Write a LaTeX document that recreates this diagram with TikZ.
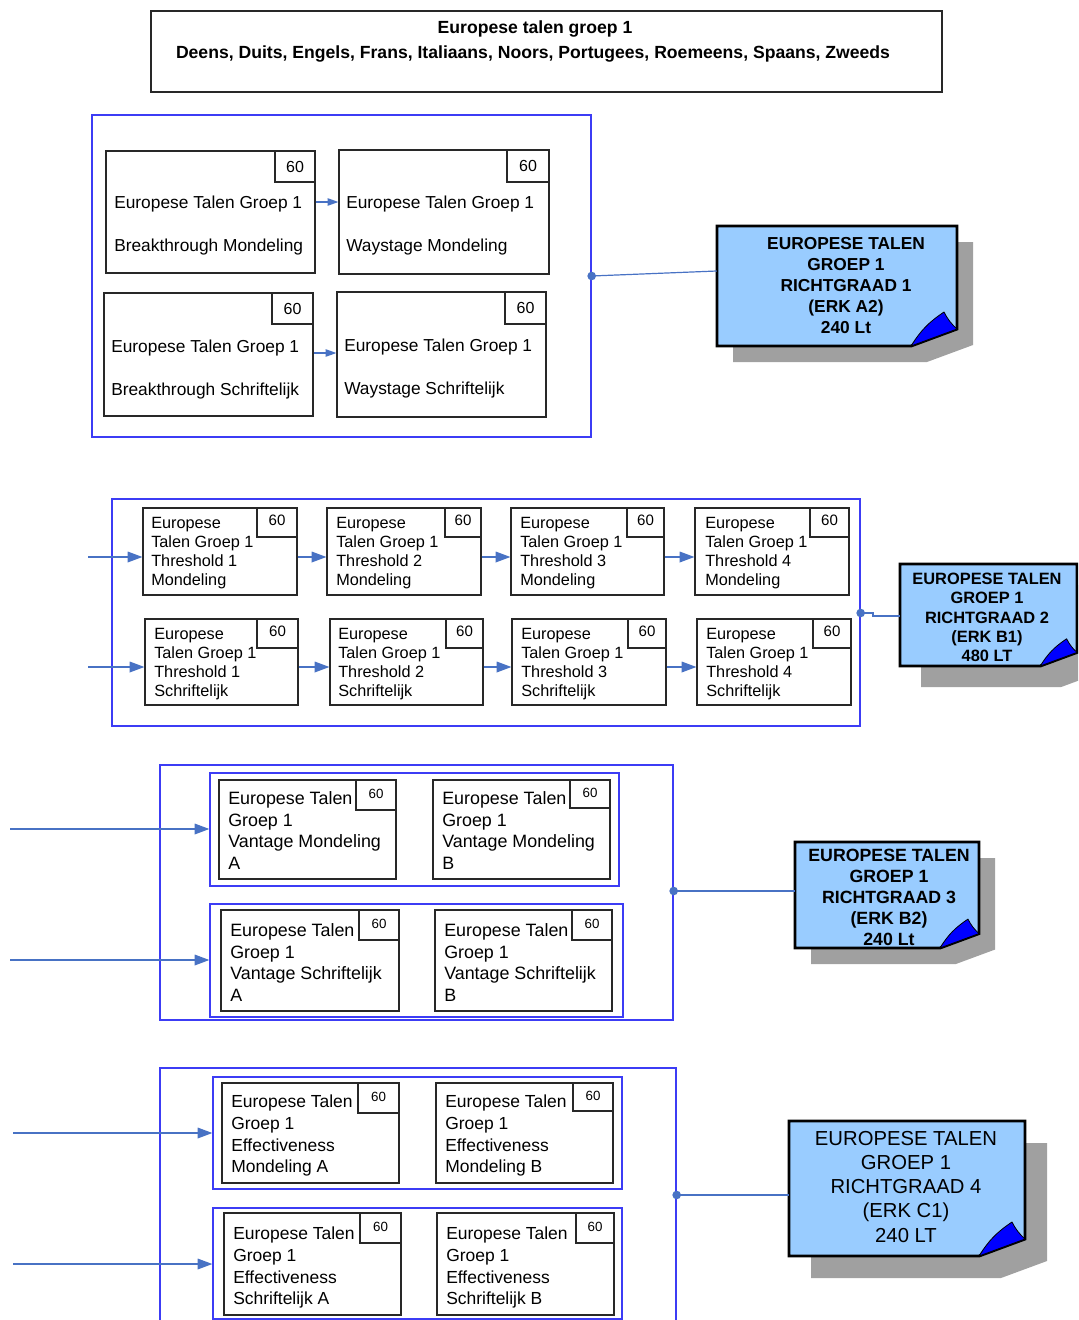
\documentclass[tikz,border=0pt]{standalone}
\usepackage{fontspec}
\setmainfont{Liberation Sans}
\usetikzlibrary{fit,arrows.meta,calc}
\definecolor{framebl}{RGB}{60,60,245}
\definecolor{connbl}{RGB}{72,114,196}
\definecolor{notefill}{RGB}{153,204,255}
\definecolor{foldbl}{RGB}{0,0,255}
\definecolor{shadowgray}{RGB}{160,160,160}
\definecolor{boxline}{RGB}{40,40,40}
\tikzset{
  blueframe/.style={draw=framebl, line width=1pt, inner sep=0},
  unitbox/.style={draw=boxline, line width=0.9pt, inner sep=0},
  tagbox/.style={draw=boxline, line width=0.9pt, inner sep=0},
  conn/.style={draw=connbl, line width=0.9pt},
  arrS/.style={conn, -{Triangle[length=8pt,width=5.5pt]}},
  arrL/.style={conn, -{Triangle[length=11pt,width=8pt]}},
  jdot/.style={circle, fill=connbl, inner sep=0, minimum size=6.5pt},
  txtA/.style={anchor=north west, inner sep=0, align=left, font=\fontsize{13}{32.5}\selectfont},
  txtB/.style={anchor=north west, inner sep=0, align=left, font=\fontsize{12.2}{14.25}\selectfont},
  txtC/.style={anchor=north west, inner sep=0, align=left, font=\fontsize{13.4}{16.1}\selectfont},
  txtD/.style={anchor=north west, inner sep=0, align=left, font=\fontsize{13.1}{16.3}\selectfont},
  tagA/.style={tagbox, font=\fontsize{12}{14}\selectfont},
  tagB/.style={tagbox, font=\fontsize{11.3}{13}\selectfont},
  tagC/.style={tagbox, font=\fontsize{10}{12}\selectfont},
  notetext/.style={anchor=north, inner sep=0, align=center},
}
% tag cell: #1 name, #2 x1, #3 y1, #4 x2, #5 y2, #6 style, #7 vertical shift of the number
\newcommand{\tagcell}[7]{%
  \node[#6, fit={(#2,#3)(#4,#5)}] (#1) {};
  \node[#6, draw=none, inner sep=0] (#1n) at ([yshift=#7]#1.center) {60};
}
% #1 name, #2 x1, #3 y1, #4 x2, #5 y2, #6 shadow offset, #7 fold scale
\newcommand{\stickynote}[7]{%
  \fill[shadowgray] (#2+#6,#3+#6) -- (#4+#6,#3+#6) -- (#4+#6,#5+#6-17*#7) -- (#4+#6-46*#7,#5+#6) -- (#2+#6,#5+#6) -- cycle;
  \node[fit={(#2,#3)(#4,#5)}, inner sep=0] (#1) {};
  \filldraw[fill=notefill, draw=black, line width=2.2pt] (#2,#3) -- (#4,#3) -- (#4,#5-17*#7) -- (#4-46*#7,#5) -- (#2,#5) -- cycle;
  \filldraw[fill=foldbl, draw=black, line width=0.6pt, line join=round] (#4-46*#7,#5) to[bend left=12] (#4-13*#7,#5-34*#7) to[bend right=10] (#4,#5-17*#7) -- cycle;
}
\begin{document}
\begin{tikzpicture}[x=0.75pt,y=-0.75pt]
\useasboundingbox (0,0) rectangle (1078,1320);
\clip (0,0) rectangle (1078,1320);

% ---------- title ----------
\node[draw=boxline, line width=0.8pt, inner sep=0, fit={(151,11)(942,92)}] (title) {};
\node[inner sep=0, font=\fontsize{13.2}{15}\selectfont\bfseries] (title1) at (535,28.5) {Europese talen groep 1};
\node[inner sep=0, font=\fontsize{13.2}{15}\selectfont\bfseries] (title2) at (533,53.5) {Deens, Duits, Engels, Frans, Italiaans, Noors, Portugees, Roemeens, Spaans, Zweeds};

% ---------- section 1 ----------
\node[blueframe, fit={(92,115)(591,437)}] (s1) {};
\node[unitbox, fit={(106,151)(315,273)}] (b1) {};
\tagcell{b1t}{275}{151}{315}{182}{tagA}{0pt}
\node[unitbox, fit={(339,150)(549,274)}] (b2) {};
\tagcell{b2t}{507}{150}{549}{182}{tagA}{0pt}
\node[unitbox, fit={(104,293)(313,416)}] (b3) {};
\tagcell{b3t}{272}{293}{313}{324}{tagA}{0pt}
\node[unitbox, fit={(337,292)(546,417)}] (b4) {};
\tagcell{b4t}{505}{292}{546}{324}{tagA}{0pt}
\node[txtA] (b1x) at (114,195.8) {Europese Talen Groep 1\\Breakthrough Mondeling};
\node[txtA] (b2x) at (346,195.8) {Europese Talen Groep 1\\Waystage Mondeling};
\node[txtA] (b3x) at (111,339.8) {Europese Talen Groep 1\\Breakthrough Schriftelijk};
\node[txtA] (b4x) at (344,338.8) {Europese Talen Groep 1\\Waystage Schriftelijk};
\draw[arrS] (b1.east |- 0,202) -- (b2.west |- 0,202);
\draw[arrS] (b3.east |- 0,353) -- (b4.west |- 0,353);

\stickynote{n1}{717}{226}{957}{346}{16}{1}
\node[notetext, font=\fontsize{13}{15.75}\selectfont\bfseries] (n1x) at (846,236.8) {EUROPESE TALEN\\GROEP 1\\RICHTGRAAD 1\\(ERK A2)\\240 Lt};
\node[jdot] (d1) at (s1.east |- 0,276) {};
\draw[conn] (d1.center) -- (n1.west |- 0,271);

% ---------- section 2 ----------
\node[blueframe, fit={(112,499)(860,726)}] (s2) {};
\node[unitbox, fit={(143,508)(297,595)}] (c1) {};
\tagcell{c1t}{257}{508}{297}{537}{tagB}{2pt}
\node[unitbox, fit={(327,508)(481,595)}] (c2) {};
\tagcell{c2t}{445}{508}{481}{537}{tagB}{2pt}
\node[unitbox, fit={(511,508)(664,595)}] (c3) {};
\tagcell{c3t}{627}{508}{664}{537}{tagB}{2pt}
\node[unitbox, fit={(695,508)(849,595)}] (c4) {};
\tagcell{c4t}{810}{508}{849}{537}{tagB}{2pt}
\node[unitbox, fit={(145,619)(298,705)}] (e1) {};
\tagcell{e1t}{257}{619}{298}{648}{tagB}{2pt}
\node[unitbox, fit={(330,619)(483,705)}] (e2) {};
\tagcell{e2t}{446}{619}{483}{648}{tagB}{2pt}
\node[unitbox, fit={(512,619)(666,705)}] (e3) {};
\tagcell{e3t}{628}{619}{666}{648}{tagB}{2pt}
\node[unitbox, fit={(697,619)(851,705)}] (e4) {};
\tagcell{e4t}{813}{619}{851}{648}{tagB}{2pt}
\node[txtB] (c1x) at (151,517.2) {Europese\\Talen Groep 1\\Threshold 1\\Mondeling};
\node[txtB] (c2x) at (336,517.2) {Europese\\Talen Groep 1\\Threshold 2\\Mondeling};
\node[txtB] (c3x) at (520,517.2) {Europese\\Talen Groep 1\\Threshold 3\\Mondeling};
\node[txtB] (c4x) at (705,517.2) {Europese\\Talen Groep 1\\Threshold 4\\Mondeling};
\node[txtB] (e1x) at (154,628.2) {Europese\\Talen Groep 1\\Threshold 1\\Schriftelijk};
\node[txtB] (e2x) at (338,628.2) {Europese\\Talen Groep 1\\Threshold 2\\Schriftelijk};
\node[txtB] (e3x) at (521,628.2) {Europese\\Talen Groep 1\\Threshold 3\\Schriftelijk};
\node[txtB] (e4x) at (706,628.2) {Europese\\Talen Groep 1\\Threshold 4\\Schriftelijk};
\coordinate (in2a) at (88,557);
\coordinate (in2b) at (88,667);
\draw[arrL] (in2a) -- (c1.west |- in2a);
\draw[arrL] (c1.east |- in2a) -- (c2.west |- in2a);
\draw[arrL] (c2.east |- in2a) -- (c3.west |- in2a);
\draw[arrL] (c3.east |- in2a) -- (c4.west |- in2a);
\draw[arrL] (in2b) -- (e1.west |- in2b);
\draw[arrL] (e1.east |- in2b) -- (e2.west |- in2b);
\draw[arrL] (e2.east |- in2b) -- (e3.west |- in2b);
\draw[arrL] (e3.east |- in2b) -- (e4.west |- in2b);

\stickynote{n2}{900}{564}{1077}{666}{21}{0.8}
\node[notetext, font=\fontsize{12.3}{14.4}\selectfont\bfseries] (n2x) at (987,573) {EUROPESE TALEN\\GROEP 1\\RICHTGRAAD 2\\(ERK B1)\\480 LT};
\node[jdot] (d2) at (s2.east |- 0,613) {};
\draw[conn] (d2.center) -- (873,613) -- (873,616) -- (n2.west |- 0,616);

% ---------- section 3 ----------
\node[blueframe, fit={(160,765)(673,1020)}] (s3) {};
\node[blueframe, fit={(210,773)(619,886)}] (g3a) {};
\node[blueframe, fit={(210,904)(623,1017)}] (g3b) {};
\node[unitbox, fit={(219,780)(396,879)}] (v1) {};
\tagcell{v1t}{356}{780}{396}{810}{tagC}{1pt}
\node[unitbox, fit={(433,780)(610,879)}] (v2) {};
\tagcell{v2t}{570}{780}{610}{808}{tagC}{1pt}
\node[unitbox, fit={(221,910)(399,1011)}] (v3) {};
\tagcell{v3t}{359}{910}{399}{940}{tagC}{1pt}
\node[unitbox, fit={(435,910)(612,1011)}] (v4) {};
\tagcell{v4t}{572}{910}{612}{940}{tagC}{1pt}
\node[txtC] (v1x) at (228,791.6) {Europese Talen\\Groep 1\\Vantage Mondeling\\A};
\node[txtC] (v2x) at (442,791.6) {Europese Talen\\Groep 1\\Vantage Mondeling\\B};
\node[txtC] (v3x) at (230,923.6) {Europese Talen\\Groep 1\\Vantage Schriftelijk\\A};
\node[txtC] (v4x) at (444,923.6) {Europese Talen\\Groep 1\\Vantage Schriftelijk\\B};
\coordinate (in3a) at (10,829);
\coordinate (in3b) at (10,960);
\draw[arrL] (in3a) -- (g3a.west |- in3a);
\draw[arrL] (in3b) -- (g3b.west |- in3b);

\stickynote{n3}{795}{842}{979}{948}{16}{0.85}
\node[notetext, font=\fontsize{13.3}{15.75}\selectfont\bfseries] (n3x) at (889,848.7) {EUROPESE TALEN\\GROEP 1\\RICHTGRAAD 3\\(ERK B2)\\240 Lt};
\node[jdot] (d3) at (s3.east |- 0,891) {};
\draw[conn] (d3.center) -- (n3.west |- 0,891);

% ---------- section 4 ----------
\node[blueframe, fit={(160,1068)(676,1330)}] (s4) {};
\node[blueframe, fit={(213,1077)(622,1189)}] (g4a) {};
\node[blueframe, fit={(213,1208)(622,1319)}] (g4b) {};
\node[unitbox, fit={(222,1083)(399,1183)}] (w1) {};
\tagcell{w1t}{358}{1083}{399}{1113}{tagC}{1pt}
\node[unitbox, fit={(436,1083)(613,1183)}] (w2) {};
\tagcell{w2t}{573}{1083}{613}{1111}{tagC}{1pt}
\node[unitbox, fit={(224,1213)(401,1315)}] (w3) {};
\tagcell{w3t}{360}{1213}{401}{1243}{tagC}{1pt}
\node[unitbox, fit={(437,1213)(614,1315)}] (w4) {};
\tagcell{w4t}{576}{1213}{614}{1243}{tagC}{1pt}
\node[txtD] (w1x) at (231,1094.7) {Europese Talen\\Groep 1\\Effectiveness\\Mondeling A};
\node[txtD] (w2x) at (445,1094.7) {Europese Talen\\Groep 1\\Effectiveness\\Mondeling B};
\node[txtD] (w3x) at (233,1226.7) {Europese Talen\\Groep 1\\Effectiveness\\Schriftelijk A};
\node[txtD] (w4x) at (446,1226.7) {Europese Talen\\Groep 1\\Effectiveness\\Schriftelijk B};
\coordinate (in4a) at (13,1133);
\coordinate (in4b) at (13,1264);
\draw[arrL] (in4a) -- (g4a.west |- in4a);
\draw[arrL] (in4b) -- (g4b.west |- in4b);

\stickynote{n4}{789}{1121}{1025}{1256}{22}{1}
\node[notetext, font=\fontsize{15.2}{18.2}\selectfont] (n4x) at (906,1130.7) {EUROPESE TALEN\\GROEP 1\\RICHTGRAAD 4\\(ERK C1)\\240 LT};
\node[jdot] (d4) at (s4.east |- 0,1195) {};
\draw[conn] (d4.center) -- (n4.west |- 0,1195);
\end{tikzpicture}
\end{document}
